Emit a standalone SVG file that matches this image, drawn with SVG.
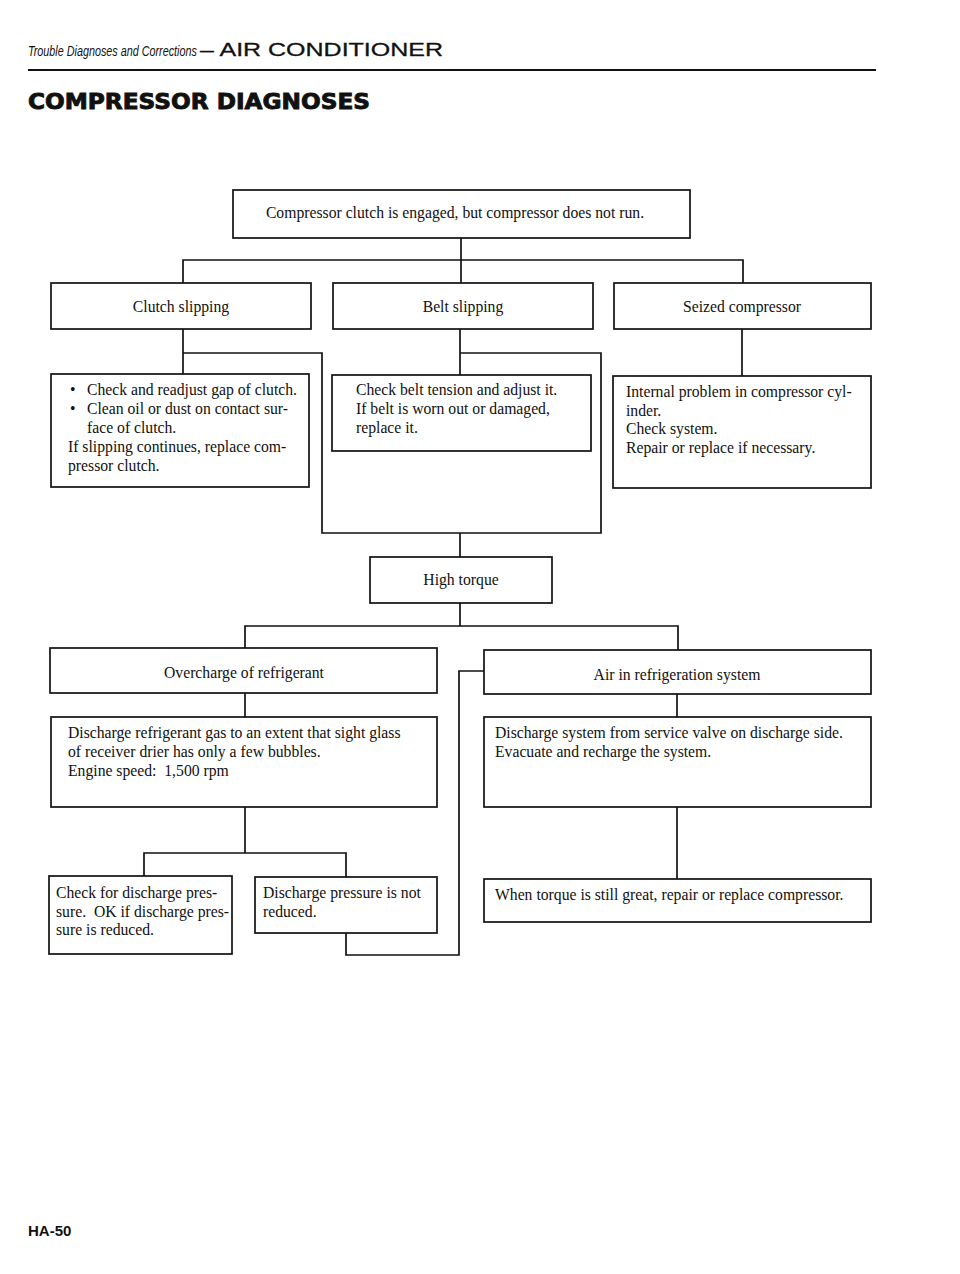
<svg xmlns="http://www.w3.org/2000/svg" width="960" height="1274" viewBox="0 0 960 1274">
<style>
.box{fill:#fff;stroke:#111;stroke-width:1.7}
.ln{fill:none;stroke:#111;stroke-width:1.7}
.t{font-family:"Liberation Serif","Times New Roman",serif;font-size:15.7px;fill:#111;white-space:pre}
.c{text-anchor:middle}
.hi{font-family:"Liberation Sans",Arial,sans-serif;font-style:italic;font-size:15px;fill:#111}
.hu{font-family:"Liberation Sans",Arial,sans-serif;font-size:19px;fill:#111;stroke:#111;stroke-width:0.3}
.ti{font-family:"DejaVu Sans","Liberation Sans",sans-serif;font-weight:bold;font-size:22px;fill:#111;stroke:#111;stroke-width:0.9}
.ft{font-family:"Liberation Sans",Arial,sans-serif;font-weight:bold;font-size:15px;fill:#111}
</style>
<rect width="960" height="1274" fill="#fff"/>
<g id="header">
<text class="hi" transform="translate(28,56) scale(0.72,1)">Trouble Diagnoses and Corrections</text>
<text x="200" y="56" class="hu" textLength="243" lengthAdjust="spacingAndGlyphs">– AIR CONDITIONER</text>
<line x1="28" y1="70" x2="876" y2="70" stroke="#111" stroke-width="2"/>
<text x="28" y="109" class="ti" textLength="342" lengthAdjust="spacingAndGlyphs">COMPRESSOR DIAGNOSES</text>
</g>
<g id="connectors">
<line class="ln" x1="461" y1="238" x2="461" y2="283"/>
<polyline class="ln" points="183,283 183,260 743,260 743,283"/>
<line class="ln" x1="183" y1="329" x2="183" y2="374"/>
<polyline class="ln" points="183,353 322,353 322,533 601,533 601,353 460,353"/>
<line class="ln" x1="460" y1="329" x2="460" y2="375"/>
<line class="ln" x1="742" y1="329" x2="742" y2="376"/>
<line class="ln" x1="460" y1="533" x2="460" y2="557"/>
<line class="ln" x1="460" y1="603" x2="460" y2="626"/>
<polyline class="ln" points="245,648 245,626 678,626 678,650"/>
<line class="ln" x1="245" y1="693" x2="245" y2="717"/>
<line class="ln" x1="677" y1="694" x2="677" y2="717"/>
<polyline class="ln" points="484,671 459,671 459,955 346,955 346,933"/>
<line class="ln" x1="245" y1="807" x2="245" y2="853"/>
<polyline class="ln" points="144,876 144,853 346,853 346,877"/>
<line class="ln" x1="677" y1="807" x2="677" y2="879"/>
</g>
<g id="n-start">
<rect class="box" x="233" y="190" width="457" height="48"/>
<text class="t c" x="455" y="218">Compressor clutch is engaged, but compressor does not run.</text>
</g>
<g id="n-clutch">
<rect class="box" x="51" y="283" width="260" height="46"/>
<text class="t c" x="181" y="312">Clutch slipping</text>
</g>
<g id="n-belt">
<rect class="box" x="333" y="283" width="260" height="46"/>
<text class="t c" x="463" y="312">Belt slipping</text>
</g>
<g id="n-seized">
<rect class="box" x="614" y="283" width="257" height="46"/>
<text class="t c" x="742" y="312">Seized compressor</text>
</g>
<g id="n-clutch-fix">
<rect class="box" x="51" y="374" width="258" height="113"/>
<text class="t" x="70" y="395">•</text>
<text class="t" x="87" y="395">Check and readjust gap of clutch.</text>
<text class="t" x="70" y="414">•</text>
<text class="t" x="87" y="414">Clean oil or dust on contact sur-</text>
<text class="t" x="87" y="433">face of clutch.</text>
<text class="t" x="68" y="452">If slipping continues, replace com-</text>
<text class="t" x="68" y="471">pressor clutch.</text>
</g>
<g id="n-belt-fix">
<rect class="box" x="332" y="375" width="259" height="76"/>
<text class="t" x="356" y="395">Check belt tension and adjust it.</text>
<text class="t" x="356" y="414">If belt is worn out or damaged,</text>
<text class="t" x="356" y="433">replace it.</text>
</g>
<g id="n-seized-fix">
<rect class="box" x="613" y="376" width="258" height="112"/>
<text class="t" x="626" y="397">Internal problem in compressor cyl-</text>
<text class="t" x="626" y="416">inder.</text>
<text class="t" x="626" y="434">Check system.</text>
<text class="t" x="626" y="453">Repair or replace if necessary.</text>
</g>
<g id="n-high">
<rect class="box" x="370" y="557" width="182" height="46"/>
<text class="t c" x="461" y="585">High torque</text>
</g>
<g id="n-over">
<rect class="box" x="50" y="648" width="387" height="45"/>
<text class="t c" x="244" y="678">Overcharge of refrigerant</text>
</g>
<g id="n-air">
<rect class="box" x="484" y="650" width="387" height="44"/>
<text class="t c" x="677" y="680">Air in refrigeration system</text>
</g>
<g id="n-over-fix">
<rect class="box" x="51" y="717" width="386" height="90"/>
<text class="t" x="68" y="738">Discharge refrigerant gas to an extent that sight glass</text>
<text class="t" x="68" y="757">of receiver drier has only a few bubbles.</text>
<text class="t" x="68" y="776">Engine speed:  1,500 rpm</text>
</g>
<g id="n-air-fix">
<rect class="box" x="484" y="717" width="387" height="90"/>
<text class="t" x="495" y="738">Discharge system from service valve on discharge side.</text>
<text class="t" x="495" y="757">Evacuate and recharge the system.</text>
</g>
<g id="n-check">
<rect class="box" x="49" y="876" width="183" height="78"/>
<text class="t" x="56" y="898">Check for discharge pres-</text>
<text class="t" x="56" y="917">sure.  OK if discharge pres-</text>
<text class="t" x="56" y="935">sure is reduced.</text>
</g>
<g id="n-notreduced">
<rect class="box" x="255" y="877" width="182" height="56"/>
<text class="t" x="263" y="898">Discharge pressure is not</text>
<text class="t" x="263" y="917">reduced.</text>
</g>
<g id="n-torque">
<rect class="box" x="484" y="879" width="387" height="43"/>
<text class="t" x="495" y="900">When torque is still great, repair or replace compressor.</text>
</g>
<g id="footer">
<text x="28" y="1236" class="ft">HA-50</text>
</g>
</svg>
